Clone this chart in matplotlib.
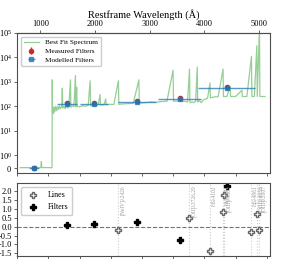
import numpy as np
import matplotlib.pyplot as plt
from matplotlib.lines import Line2D

plt.rcParams['font.family'] = ['Liberation Serif', 'DejaVu Serif']
plt.rcParams['mathtext.fontset'] = 'stix'

# redshift of the fit
z = 7.75

# best fit spectrum (observed wavelength in A, flux)
spec_wave = [5500, 8800, 8900, 8950, 10600, 10640, 10670, 10750, 10850, 10950,
             11050, 11200, 11350, 11500, 11650, 11800, 11950, 12150, 12250, 12320,
             12500, 12700, 12900, 13100, 13300, 13550, 13620, 13850, 14100, 14350,
             14420, 14550, 14620, 15000, 15500, 16000, 16400, 16700, 16780, 17300,
             18000, 18300, 18360, 18900, 19200, 19260, 19800, 20500, 21230, 21300,
             22000, 22800, 23600, 24500, 24580, 25500, 26500, 27200, 28000, 29000,
             29980, 30050, 31000, 31800, 32300, 32610, 32680, 33000, 33300, 33600,
             33850, 33920, 34200, 34500, 34800, 35200, 35500, 35890, 35960, 36500,
             37200, 37985, 38050, 38600, 39120, 39190, 40000, 41000, 41070, 41800,
             42530, 42600, 43000, 43390, 43460, 43810, 43880, 44300, 44700]
spec_flux = [0.02, 0.02, 0.5, 0.03, 0.02, 1200, 55, 95, 50, 90,
             60, 100, 65, 95, 75, 105, 80, 95, 550, 85,
             100, 80, 105, 85, 100, 1200, 90, 105, 95, 1800,
             95, 600, 100, 95, 105, 100, 110, 1100, 105, 110,
             115, 300, 112, 115, 200, 115, 120, 118, 1100, 120,
             125, 128, 130, 1200, 135, 140, 150, 145, 155, 160,
             3000, 160, 165, 160, 150, 3300, 140, 150, 140, 160,
             4000, 150, 170, 140, 180, 200, 210, 900, 220, 240,
             245, 3300, 250, 250, 650, 250, 250, 450, 250, 250,
             11000, 250, 250, 30000, 250, 150000, 250, 250, 250]

# photometry
filt_wave = [7720, 13000, 17320, 24200, 31080, 38600]
filt_width = [800, 1600, 2240, 3040, 3440, 4560]
meas_flux = [0.0, 135, 135, 165, 220, 610]
meas_err = [0.05, 20, 20, 25, 30, 80]
model_flux = [0.0, 122, 125, 152, 205, 570]

# residuals
filt_resid = [0.08, 0.16, 0.27, -0.75, 2.3]
line_names = ['[NeIV]λ2426', '[OII]λ3726,29', 'Hδλ4102', 'Hγλ4341', '[OIII]λ4363',
              'Hβλ4861', '[OIII]λ4959', '[OIII]λ5007']
line_rest = [2426, 3727, 4102, 4341, 4363, 4861, 4959, 5007]
line_resid = [-0.19, 0.5, -1.35, 0.85, 1.77, -0.31, 0.73, -0.19]

fig = plt.figure(figsize=(2.99, 2.59), dpi=100)
ax1 = fig.add_axes([0.057, 0.332, 0.846, 0.541])
ax2 = fig.add_axes([0.057, 0.012, 0.846, 0.28], sharex=ax1)

spine_col = '0.3'
for a in (ax1, ax2):
    for s in a.spines.values():
        s.set_color(spine_col)
        s.set_linewidth(0.8)
    a.tick_params(labelsize=6, length=2.5, width=0.6, color=spine_col, pad=1)

# --- top panel
ax1.plot(spec_wave, spec_flux, color='#2ca02c', alpha=0.5, lw=0.9, label='Best Fit Spectrum')
ax1.errorbar(filt_wave, meas_flux, yerr=meas_err, fmt='o', color='#d62728', ms=3,
             elinewidth=1, label='Measured Filters', zorder=3)
ax1.errorbar(filt_wave, model_flux, xerr=filt_width, fmt='s', color='#1f77b4', ms=3,
             elinewidth=1, alpha=0.75, label='Modelled Filters', zorder=4)
ax1.set_yscale('symlog', linthresh=1, linscale=0.47)
ax1.set_ylim(-0.4, 1e5)
ax1.set_yticks([0, 1, 10, 100, 1e3, 1e4, 1e5])
ax1.set_xlim(5000, 45500)
ax1.tick_params(axis='x', labelbottom=False)
ax1.legend(loc='upper left', fontsize=5.2, handlelength=2.2, borderpad=0.4,
           labelspacing=0.35, framealpha=1, edgecolor='0.8')

sec = ax1.secondary_xaxis('top', functions=(lambda x: x / (1 + z), lambda x: x * (1 + z)))
sec.set_xticks([1000, 2000, 3000, 4000, 5000])
sec.tick_params(labelsize=6, length=2.5, width=0.6, color=spine_col, pad=1)
sec.spines['top'].set_color(spine_col)
sec.set_xlabel('Restframe Wavelength (Å)', fontsize=7.5, labelpad=2)

# --- bottom panel
ax2.axhline(0, color='0.45', ls='--', lw=0.8)
for name, lr, r in zip(line_names, line_rest, line_resid):
    lo = lr * (1 + z)
    ax2.axvline(lo, color='0.8', ls=':', lw=0.8, zorder=0)
    ax2.text(lo + 250, 2.35, name, rotation=90, ha='left', va='top',
             fontsize=4, color='0.6')
line_obs = [lr * (1 + z) for lr in line_rest]
ax2.plot(line_obs, line_resid, 'P', ms=4.5, mfc='white', mec='0.4', mew=1.0, ls='none')
ax2.plot(filt_wave[1:], filt_resid, 'P', ms=5, color='black', ls='none')
ax2.set_ylim(-1.65, 2.45)
ax2.set_yticks([-1.5, -1.0, -0.5, 0.0, 0.5, 1.0, 1.5, 2.0])
ax2.set_xticks(np.arange(5000, 45001, 5000))
handles = [Line2D([], [], marker='P', ls='none', ms=4.5, mfc='white', mec='0.4', mew=1.0),
           Line2D([], [], marker='P', ls='none', ms=5, color='black')]
ax2.legend(handles, ['Lines', 'Filters'], loc='upper left', fontsize=5.8,
           borderpad=0.5, labelspacing=0.5, framealpha=1, edgecolor='0.8')

fig.savefig('out.png', dpi=100)
